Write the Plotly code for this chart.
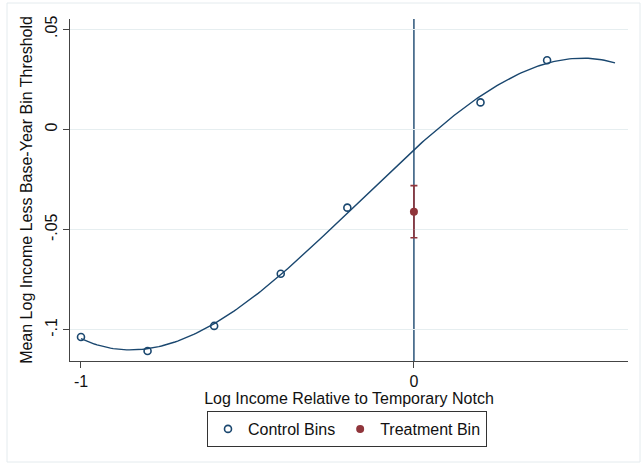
import numpy as np
import plotly.graph_objects as go

# Data
control_x = [-1.0, -0.8, -0.6, -0.4, -0.2, 0.2, 0.4]
control_y = [-0.1035, -0.1105, -0.098, -0.072, -0.039, 0.0135, 0.0345]
treat_x = [0.0]
treat_y = [-0.041]
treat_hi = [-0.028]
treat_lo = [-0.054]
notch_x = 0.0
fit_range = [-1.0, 0.604]
y_ticks = [0.05, 0.0, -0.05, -0.1]
y_tick_labels = [".05", "0", "-.05", "-.1"]
x_ticks = [-1, 0]
x_tick_labels = ["-1", "0"]

NAVY = "#1a476f"
MAROON = "#90353b"
FONT = "Liberation Sans, Arial, sans-serif"

coef = np.polyfit(control_x, control_y, 3)
fx = np.linspace(fit_range[0], fit_range[1], 200)
fy = np.polyval(coef, fx)

fig = go.Figure()
fig.add_trace(go.Scatter(x=fx, y=fy, mode="lines", line=dict(color=NAVY, width=1.4),
                         showlegend=False, hoverinfo="skip"))
fig.add_trace(go.Scatter(x=control_x, y=control_y, mode="markers", name="Control Bins",
                         marker=dict(symbol="circle-open", size=7, color=NAVY,
                                     line=dict(width=1.6, color=NAVY))))
fig.add_trace(go.Scatter(
    x=treat_x, y=treat_y, mode="markers", name="Treatment Bin",
    marker=dict(symbol="circle", size=8, color=MAROON),
    error_y=dict(type="data", symmetric=False,
                 array=[h - y for h, y in zip(treat_hi, treat_y)],
                 arrayminus=[y - l for l, y in zip(treat_lo, treat_y)],
                 color=MAROON, thickness=1.6, width=3.5)))

fig.add_vline(x=notch_x, line=dict(color=NAVY, width=1.4), layer="below")

# plot area in pixels: x 70..628, y 19..361
PL, PR, PT, PB = 70, 628, 19, 361
pw, ph = PR - PL, PB - PT

# outer graph-region border
fig.add_shape(type="rect", xref="paper", yref="paper",
              x0=(7 - PL) / pw, x1=(640 - PL) / pw,
              y0=(PB - 462) / ph, y1=(PB - 3) / ph,
              line=dict(color="#e4ebee", width=1), layer="below")

fig.update_layout(
    template="none",
    width=642, height=464,
    margin=dict(l=PL, r=642 - PR, t=PT, b=464 - PB, autoexpand=False),
    paper_bgcolor="white", plot_bgcolor="white",
    font=dict(family=FONT, size=16, color="#111"),
    showlegend=True,
    legend=dict(orientation="h", x=(347 - PL) / pw, xanchor="center",
                y=(PB - 411) / ph, yanchor="top",
                bordercolor="#333", borderwidth=1, font=dict(size=16),
                bgcolor="white", tracegroupgap=0),
)
fig.update_xaxes(range=[-1.033, 0.643], tickvals=x_ticks, ticktext=x_tick_labels,
                 automargin=False,
                 showgrid=False, zeroline=False, showline=True, linecolor="#444",
                 linewidth=1.2, ticks="outside", ticklen=6, tickcolor="#444",
                 title=dict(text="Log Income Relative to Temporary Notch", standoff=0,
                            font=dict(size=16)),
                 tickfont=dict(size=16))
fig.update_yaxes(range=[-0.1155, 0.0551], tickvals=y_ticks, ticktext=y_tick_labels,
                 automargin=False,
                 tickangle=-90, showgrid=True, gridcolor="#e6eef0", gridwidth=1,
                 zeroline=False, showline=True, linecolor="#444", linewidth=1.2,
                 ticks="outside", ticklen=6, tickcolor="#444",
                 title=dict(text="Mean Log Income Less Base-Year Bin Threshold", standoff=5,
                            font=dict(size=16)),
                 tickfont=dict(size=16))

fig.write_html("out.html", config={"displayModeBar": False},
               post_script="document.body.style.margin='0';")
